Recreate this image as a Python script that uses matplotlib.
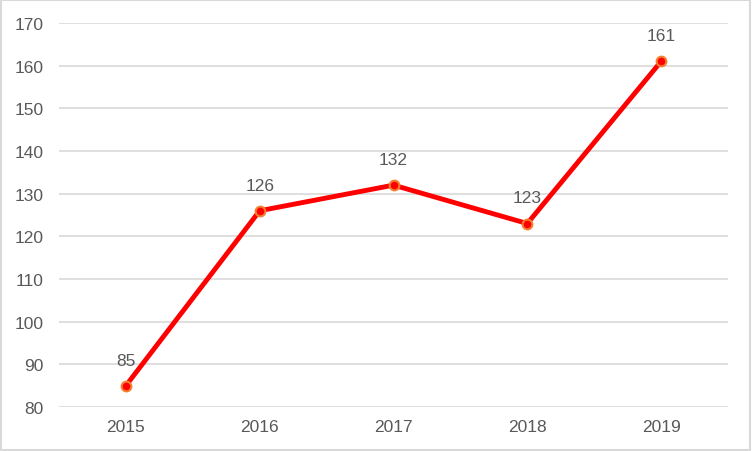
import matplotlib.pyplot as plt
from matplotlib.patches import Rectangle

years = ["2015", "2016", "2017", "2018", "2019"]
values = [85, 126, 132, 123, 161]
y_ticks = list(range(80, 171, 10))

TEXT_COLOR = "#595959"
GRID_COLOR = "#d9d9d9"

plt.rcParams["font.family"] = ["Liberation Sans", "DejaVu Sans"]

fig = plt.figure(figsize=(7.52, 4.52), dpi=100)
ax = fig.add_axes([59 / 752, 1 - 408 / 452, (728 - 59) / 752, (408 - 24) / 452])

x = list(range(len(years)))
ax.plot(x, values, color="#ff0000", linewidth=3.5, marker="o", markersize=7,
        markerfacecolor="#ff0000", markeredgecolor="#f4802f", markeredgewidth=1.5,
        zorder=3)

for xi, v in zip(x, values):
    ax.annotate(str(v), (xi, v), xytext=(0, 13), textcoords="offset points",
                ha="center", va="bottom", fontsize=12.5, color=TEXT_COLOR)

ax.set_xlim(-0.5, len(years) - 0.5)
ax.set_ylim(80, 170)
ax.set_xticks(x)
ax.set_xticklabels(years)
ax.set_yticks(y_ticks)
ax.tick_params(axis="both", length=0, labelsize=12.5, labelcolor=TEXT_COLOR)
ax.tick_params(axis="x", pad=9)
ax.tick_params(axis="y", pad=11)
ax.grid(True, axis="y", color=GRID_COLOR, linewidth=1.2)
ax.set_axisbelow(True)
for spine in ax.spines.values():
    spine.set_visible(False)

# light frame around the whole chart
fig.patches.append(Rectangle((0.001, 0.002), 0.997, 0.995, transform=fig.transFigure,
                             fill=False, edgecolor="#d9d9d9", linewidth=1.5))

fig.savefig("out.png", dpi=100)
